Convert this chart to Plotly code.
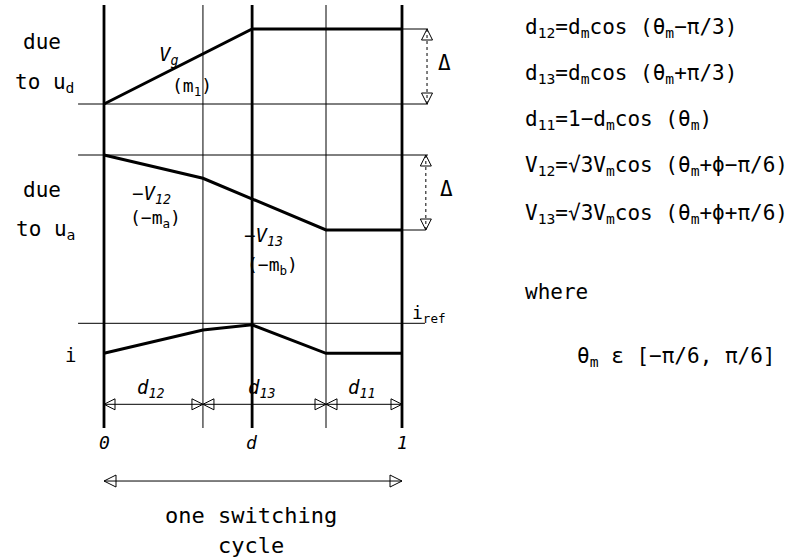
import plotly.graph_objects as go

# ---- one switching cycle, normalised to 0..1 -------------------------------
T_SW = [0.0, 0.332, 0.745, 1.0]        # 0, end of d12, end of d13, end of d11
D_ON = 0.497                           # d : end of the u_d interval
TICK_VALS = [0.0, D_ON, 1.0]
TICK_TEXT = ["0", "d", "1"]
INTERVAL_NAMES = ["d<sub>12</sub>", "d<sub>13</sub>", "d<sub>11</sub>"]

# current contribution due to u_d (units of Δ, relative to its strip baseline)
vg_t = [0.0, D_ON, 1.0]
vg_y = [0.0, 1.0, 1.0]

# current contribution due to u_a (units of Δ, relative to its strip baseline)
ua_t = [0.0, 0.332, 0.745, 1.0]
ua_y = [0.0, -0.31, -1.0, -1.0]

# resulting current, relative to i_ref (units of Δ)
i_t = [0.0, 0.332, D_ON, 0.745, 1.0]
i_y = [-0.40, -0.09, -0.02, -0.40, -0.40]

# ---- strip layout (vertical offsets of each strip, units of Δ) -------------
UD_BASE = 0.0
UA_BASE = -0.68
I_REF = -2.924
V_TOP, V_BOT = 1.32, -4.32
DUR_ROW = -4.004
CYCLE_ROW = -5.027
EXT_L, EXT_R = -0.087, 1.087

FONT = "DejaVu Sans Mono"
INK = "black"

fig = go.Figure()


def line(xs, ys, w=1.0, dash="solid"):
    fig.add_trace(go.Scatter(x=xs, y=ys, mode="lines",
                             line=dict(color=INK, width=w, dash=dash),
                             hoverinfo="skip", showlegend=False))


def heads(xs, ys, symbols, size=10):
    # open arrow symbols: tip sits on the data point, outline takes marker colour
    fig.add_trace(go.Scatter(x=xs, y=ys, mode="markers",
                             marker=dict(symbol=symbols, size=size, color=INK,
                                         line=dict(color=INK, width=1)),
                             hoverinfo="skip", showlegend=False))


# vertical time markers: thick at 0, d, 1 ; thin at interval boundaries
for t in T_SW[1:3]:
    line([t, t], [V_TOP, V_BOT], 1.0)
for t in TICK_VALS:
    line([t, t], [V_TOP, V_BOT], 2.8)

# horizontal reference lines
line([EXT_L, EXT_R], [UD_BASE, UD_BASE])
line([EXT_L, EXT_R], [UA_BASE, UA_BASE])
line([EXT_L, 1.077], [I_REF, I_REF])
line([1.0, EXT_R], [UD_BASE + 1, UD_BASE + 1])
line([1.0, 1.08], [UA_BASE - 1, UA_BASE - 1])

# waveforms
line(vg_t, [UD_BASE + v for v in vg_y], 3.0)
line(ua_t, [UA_BASE + v for v in ua_y], 3.0)
line(i_t, [I_REF + v for v in i_y], 3.0)

# Δ dimension arrows
for xa, y0 in [(1.084, UD_BASE), (1.08, UA_BASE - 1)]:
    line([xa, xa], [y0, y0 + 1], 1.0, dash="dot")
    heads([xa, xa], [y0 + 1, y0], ["arrow-up-open", "arrow-down-open"], 11)

# interval duration arrows
line([T_SW[0], T_SW[-1]], [DUR_ROW, DUR_ROW])
hx, hs = [], []
for a, b in zip(T_SW[:-1], T_SW[1:]):
    hx += [a, b]
    hs += ["arrow-left-open", "arrow-right-open"]
heads(hx, [DUR_ROW] * len(hx), hs, 11)

# one switching cycle arrow
line([0.0, 1.0], [CYCLE_ROW, CYCLE_ROW])
heads([0.0, 1.0], [CYCLE_ROW] * 2, ["arrow-left-open", "arrow-right-open"], 12)


def label(x, y, text, size=19, xanchor="center", italic=False, ref="x"):
    fig.add_annotation(x=x, y=y, text=text, showarrow=False,
                       xref="x" if ref == "x" else "paper",
                       yref="y" if ref == "x" else "paper",
                       xanchor=xanchor, yanchor="middle",
                       font=dict(family=FONT, size=size, color=INK,
                                 style="italic" if italic else "normal"))


# strip titles
label(-0.208, 0.827, "due", 21)
label(-0.201, 0.28, "to u<sub>d</sub>", 21)
label(-0.208, -1.147, "due", 21)
label(-0.198, -1.68, "to u<sub>a</sub>", 21)
label(-0.114, -3.347, "i", 19)

# curve labels
label(0.215, 0.653, "V<sub>g</sub>", 19, italic=True)
label(0.295, 0.227, "(m<sub>1</sub>)", 18)
label(0.161, -1.213, "−V<sub>12</sub>", 19, italic=True)
label(0.174, -1.533, "(−m<sub>a</sub>)", 18)
label(0.463, -1.773, "−V<sub>13</sub>", 19, xanchor="left", italic=True)
label(0.473, -2.16, "(−m<sub>b</sub>)", 18, xanchor="left")
label(1.027, -2.80, "i<sub>ref</sub>", 18, xanchor="left")
label(1.144, 0.547, "Δ", 21)
label(1.148, -1.133, "Δ", 21)

# interval names and time ticks
for a, b, name in zip(T_SW[:-1], T_SW[1:], INTERVAL_NAMES):
    label((a + b) / 2 - 0.01, -3.79, name, 19, italic=True)
for t, txt in zip(TICK_VALS, TICK_TEXT):
    label(t, -4.507, txt, 18, italic=True)

label(0.493, -5.493, "one switching", 22)
label(0.493, -5.88, "cycle", 22)

# duty-ratio and voltage definitions
EQS = [
    "d<sub>12</sub>=d<sub>m</sub>cos (θ<sub>m</sub>−π/3)",
    "d<sub>13</sub>=d<sub>m</sub>cos (θ<sub>m</sub>+π/3)",
    "d<sub>11</sub>=1−d<sub>m</sub>cos (θ<sub>m</sub>)",
    "V<sub>12</sub>=√3V<sub>m</sub>cos (θ<sub>m</sub>+ϕ−π/6)",
    "V<sub>13</sub>=√3V<sub>m</sub>cos (θ<sub>m</sub>+ϕ+π/6)",
]
EQ_ROWS = [28, 74, 120, 166, 214]
for py, eq in zip(EQ_ROWS, EQS):
    label(523 / 800, 1 - py / 558, eq, 21, xanchor="left", ref="paper")
label(523 / 800, 1 - 292 / 558, "where", 21, xanchor="left", ref="paper")
label(575 / 800, 1 - 357 / 558, "θ<sub>m</sub> ε [−π/6, π/6]", 21,
      xanchor="left", ref="paper")

fig.update_layout(
    width=800, height=558,
    margin=dict(l=0, r=0, t=0, b=0),
    paper_bgcolor="white", plot_bgcolor="white",
    xaxis=dict(range=[-104 / 298, 696 / 298], visible=False),
    yaxis=dict(range=[-454 / 75, 104 / 75], visible=False),
    showlegend=False,
)

fig.write_html("out.html")
